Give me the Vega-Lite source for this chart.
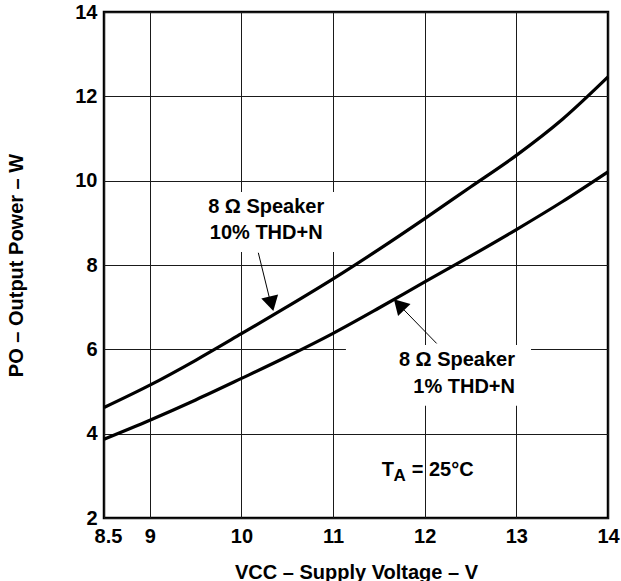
{
  "$schema": "https://vega.github.io/schema/vega-lite/v6.json",
  "width": 504,
  "height": 506,
  "autosize": {"type": "none"},
  "padding": {"left": 104, "top": 12, "right": 13, "bottom": 63},
  "background": "white",
  "config": {
    "view": {"stroke": "black", "strokeWidth": 2.5},
    "axis": {
      "domain": false,
      "ticks": false,
      "grid": true,
      "gridColor": "#1a1a1a",
      "gridWidth": 1,
      "gridOpacity": 1,
      "labelFont": "Liberation Sans",
      "labelFontWeight": "bold",
      "labelFontSize": 20,
      "labelColor": "black",
      "titleFont": "Liberation Sans",
      "titleFontWeight": "bold",
      "titleFontSize": 20,
      "titleColor": "black"
    },
    "text": {"font": "Liberation Sans", "fontWeight": "bold", "fontSize": 20, "color": "black"}
  },
  "datasets": {
    "curves": [
      {"v": 8.5, "p": 4.62, "series": "10% THD+N"},
      {"v": 9, "p": 5.15, "series": "10% THD+N"},
      {"v": 9.5, "p": 5.74, "series": "10% THD+N"},
      {"v": 10, "p": 6.37, "series": "10% THD+N"},
      {"v": 10.5, "p": 7.01, "series": "10% THD+N"},
      {"v": 11, "p": 7.67, "series": "10% THD+N"},
      {"v": 11.5, "p": 8.37, "series": "10% THD+N"},
      {"v": 12, "p": 9.1, "series": "10% THD+N"},
      {"v": 12.5, "p": 9.85, "series": "10% THD+N"},
      {"v": 13, "p": 10.6, "series": "10% THD+N"},
      {"v": 13.5, "p": 11.45, "series": "10% THD+N"},
      {"v": 14, "p": 12.46, "series": "10% THD+N"},
      {"v": 8.5, "p": 3.87, "series": "1% THD+N"},
      {"v": 9, "p": 4.32, "series": "1% THD+N"},
      {"v": 9.5, "p": 4.8, "series": "1% THD+N"},
      {"v": 10, "p": 5.31, "series": "1% THD+N"},
      {"v": 10.5, "p": 5.83, "series": "1% THD+N"},
      {"v": 11, "p": 6.38, "series": "1% THD+N"},
      {"v": 11.5, "p": 6.98, "series": "1% THD+N"},
      {"v": 12, "p": 7.6, "series": "1% THD+N"},
      {"v": 12.5, "p": 8.21, "series": "1% THD+N"},
      {"v": 13, "p": 8.84, "series": "1% THD+N"},
      {"v": 13.5, "p": 9.5, "series": "1% THD+N"},
      {"v": 14, "p": 10.21, "series": "1% THD+N"}
    ],
    "boxes": [
      {"x1": 9.5, "x2": 11.05, "y1": 8.31, "y2": 9.73},
      {"x1": 11.14, "x2": 13.16, "y1": 4.66, "y2": 6.1}
    ],
    "arrows": [
      {"x1": 10.184, "y1": 8.29, "x2": 10.33, "y2": 7.0},
      {"x1": 12.13, "y1": 6.14, "x2": 11.7, "y2": 7.1}
    ],
    "label1": [
      {"x": 10.27, "y": 9.376, "t": "8 Ω Speaker"},
      {"x": 10.27, "y": 8.752, "t": "10% THD+N"}
    ],
    "label2": [
      {"x": 12.985, "y": 5.74, "t": "8 Ω Speaker"},
      {"x": 12.985, "y": 5.107, "t": "1% THD+N"}
    ]
  },
  "layer": [
    {
      "data": {"name": "boxes"},
      "mark": {"type": "rect", "color": "white"},
      "encoding": {
        "x": {"field": "x1", "type": "quantitative", "scale": {"domain": [8.5, 14], "nice": false, "zero": false},
          "axis": {"values": [8.5, 9, 10, 11, 12, 13, 14], "format": "~g", "title": "VCC – Supply Voltage – V", "labelPadding": 8,
            "labelFlush": false,
            "labelOffset": {"condition": {"test": "datum.value == 8.5", "value": 4}, "value": 0},
            "titleBaseline": "alphabetic", "titleY": 60}},
        "x2": {"field": "x2"},
        "y": {"field": "y1", "type": "quantitative", "scale": {"domain": [2, 14], "nice": false, "zero": false},
          "axis": {"values": [2, 4, 6, 8, 10, 12, 14], "title": "PO – Output Power – W", "labelPadding": 7,
            "titleX": -78, "titleY": 253}},
        "y2": {"field": "y2"}
      }
    },
    {
      "data": {"name": "curves"},
      "mark": {"type": "line", "color": "black", "strokeWidth": 3.2, "interpolate": "monotone"},
      "encoding": {
        "x": {"field": "v", "type": "quantitative"},
        "y": {"field": "p", "type": "quantitative"},
        "detail": {"field": "series"}
      }
    },
    {
      "data": {"name": "arrows"},
      "mark": {"type": "rule", "color": "black", "strokeWidth": 1},
      "encoding": {
        "x": {"field": "x1", "type": "quantitative"},
        "y": {"field": "y1", "type": "quantitative"},
        "x2": {"field": "x2"},
        "y2": {"field": "y2"}
      }
    },
    {
      "data": {"values": [{"x": 10.328, "y": 7.08}]},
      "mark": {"type": "point", "shape": "triangle-down", "filled": true, "color": "black", "opacity": 1, "size": 300, "angle": -14},
      "encoding": {
        "x": {"field": "x", "type": "quantitative"},
        "y": {"field": "y", "type": "quantitative"}
      }
    },
    {
      "data": {"values": [{"x": 11.72, "y": 7.06}]},
      "mark": {"type": "point", "shape": "triangle-up", "filled": true, "color": "black", "opacity": 1, "size": 300, "angle": -44},
      "encoding": {
        "x": {"field": "x", "type": "quantitative"},
        "y": {"field": "y", "type": "quantitative"}
      }
    },
    {
      "data": {"name": "label1"},
      "mark": {"type": "text", "align": "center", "baseline": "middle"},
      "encoding": {
        "x": {"field": "x", "type": "quantitative"},
        "y": {"field": "y", "type": "quantitative"},
        "text": {"field": "t"}
      }
    },
    {
      "data": {"name": "label2"},
      "mark": {"type": "text", "align": "right", "baseline": "middle"},
      "encoding": {
        "x": {"field": "x", "type": "quantitative"},
        "y": {"field": "y", "type": "quantitative"},
        "text": {"field": "t"}
      }
    },
    {
      "data": {"values": [{"x": 11.53, "y": 3.14, "t": "T"}, {"x": 11.858, "y": 3.14, "t": "= 25°C"}]},
      "mark": {"type": "text", "align": "left", "baseline": "middle"},
      "encoding": {
        "x": {"field": "x", "type": "quantitative"},
        "y": {"field": "y", "type": "quantitative"},
        "text": {"field": "t"}
      }
    },
    {
      "data": {"values": [{"x": 11.66, "y": 3.0, "t": "A"}]},
      "mark": {"type": "text", "align": "left", "baseline": "middle", "fontSize": 17},
      "encoding": {
        "x": {"field": "x", "type": "quantitative"},
        "y": {"field": "y", "type": "quantitative"},
        "text": {"field": "t"}
      }
    }
  ]
}
